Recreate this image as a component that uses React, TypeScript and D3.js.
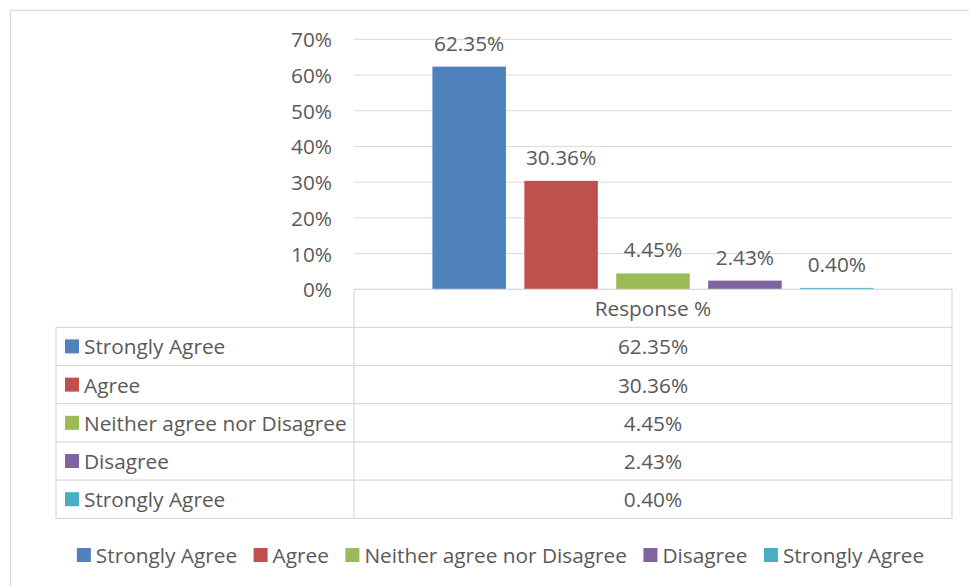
import React, { useMemo } from "react";
import * as d3 from "d3";

const categories = ["Response %"];
const seriesNames = ["Strongly Agree", "Agree", "Neither agree nor Disagree", "Disagree", "Strongly Agree"];
const seriesValues = [62.35, 30.36, 4.45, 2.43, 0.4];
const seriesColors = ["#4f81bd", "#c0504d", "#9bbb59", "#8064a2", "#4bacc6"];
const yTicks = [0, 10, 20, 30, 40, 50, 60, 70];

const W = 969;
const H = 586;
const FONT = "'Open Sans', sans-serif";
const FS = 20.8;
const TEXT = "#595959";
const GRID = "#d9d9d9";

const fmt = (v: number) => v.toFixed(2) + "%";

export default function App() {
  const plotLeft = 354;
  const plotRight = 952;
  const plotTop = 39.3;
  const plotBottom = 289.3;
  const tableLeft = 56;
  const rowTop = 327.3;
  const rowH = 38.2;

  const y = d3.scaleLinear().domain([0, 70]).range([plotBottom, plotTop]);
  const xCat = d3.scaleBand<string>().domain(categories).range([plotLeft, plotRight]).padding(0);
  const xSer = d3
    .scaleBand<number>()
    .domain(d3.range(seriesValues.length))
    .range([0, xCat.bandwidth()])
    .paddingInner(0.2)
    .paddingOuter(0.853);

  const legendLayout = useMemo(() => {
    const ctx = document.createElement("canvas").getContext("2d")!;
    ctx.font = `${FS}px ${FONT}`;
    const widths = seriesNames.map((s) => ctx.measureText(s).width);
    const keyW = 14;
    const keyGap = 5;
    const itemGap = 16.5;
    const total = d3.sum(widths, (w) => keyW + keyGap + w) + itemGap * (widths.length - 1);
    let x = 500.5 - total / 2;
    return widths.map((w) => {
      const item = { keyX: x, textX: x + keyW + keyGap };
      x += keyW + keyGap + w + itemGap;
      return item;
    });
  }, []);

  const cat = categories[0];
  const catX = xCat(cat)!;
  const tableRows = seriesNames.map((_, i) => rowTop + i * rowH);
  const tableBottom = rowTop + seriesNames.length * rowH;
  const legendY = 555;

  return (
    <svg
      width={W}
      height={H}
      style={{ position: "absolute", left: 0, top: 0, background: "#fff" }}
      fontFamily={FONT}
      fontSize={FS}
    >
      <rect x={0} y={0} width={W} height={H} fill="#fff" />
      <rect x={10.5} y={10.5} width={1000} height={1000} fill="none" stroke={GRID} strokeWidth={1.3} />

      {/* gridlines */}
      {yTicks.map((t) => (
        <line key={"g" + t} x1={plotLeft} x2={plotRight} y1={y(t)} y2={y(t)} stroke={GRID} strokeWidth={1} />
      ))}
      {/* y tick labels */}
      {yTicks.map((t) => (
        <text key={"t" + t} x={332} y={y(t)} textAnchor="end" dominantBaseline="central" fill={TEXT}>
          {t + "%"}
        </text>
      ))}

      {/* bars */}
      {seriesValues.map((v, i) => (
        <rect
          key={"b" + i}
          x={catX + xSer(i)!}
          y={y(v)}
          width={xSer.bandwidth()}
          height={y(0) - y(v)}
          fill={seriesColors[i]}
        />
      ))}
      {/* data labels */}
      {seriesValues.map((v, i) => (
        <text
          key={"l" + i}
          x={catX + xSer(i)! + xSer.bandwidth() / 2}
          y={y(v) - 24}
          textAnchor="middle"
          dominantBaseline="central"
          fill={TEXT}
        >
          {fmt(v)}
        </text>
      ))}

      {/* data table */}
      <g stroke={GRID} strokeWidth={1.2} fill="none">
        <line x1={plotLeft} x2={plotRight} y1={plotBottom} y2={plotBottom} />
        {[rowTop, ...tableRows.map((r) => r + rowH)].map((ry, i) => (
          <line key={"h" + i} x1={tableLeft} x2={plotRight} y1={ry} y2={ry} />
        ))}
        <line x1={tableLeft} x2={tableLeft} y1={rowTop} y2={tableBottom} />
        <line x1={plotLeft} x2={plotLeft} y1={plotBottom} y2={tableBottom} />
        <line x1={plotRight} x2={plotRight} y1={plotBottom} y2={tableBottom} />
      </g>
      <text
        x={catX + xCat.bandwidth() / 2}
        y={(plotBottom + rowTop) / 2}
        textAnchor="middle"
        dominantBaseline="central"
        fill={TEXT}
      >
        {cat}
      </text>
      {seriesNames.map((name, i) => (
        <g key={"r" + i}>
          <rect x={65} y={tableRows[i] + rowH / 2 - 7} width={14} height={14} fill={seriesColors[i]} />
          <text x={84} y={tableRows[i] + rowH / 2} dominantBaseline="central" fill={TEXT}>
            {name}
          </text>
          <text
            x={catX + xCat.bandwidth() / 2}
            y={tableRows[i] + rowH / 2}
            textAnchor="middle"
            dominantBaseline="central"
            fill={TEXT}
          >
            {fmt(seriesValues[i])}
          </text>
        </g>
      ))}

      {/* legend */}
      {seriesNames.map((name, i) => (
        <g key={"lg" + i}>
          <rect x={legendLayout[i].keyX} y={legendY - 7} width={14} height={14} fill={seriesColors[i]} />
          <text x={legendLayout[i].textX} y={legendY} dominantBaseline="central" fill={TEXT}>
            {name}
          </text>
        </g>
      ))}
    </svg>
  );
}
